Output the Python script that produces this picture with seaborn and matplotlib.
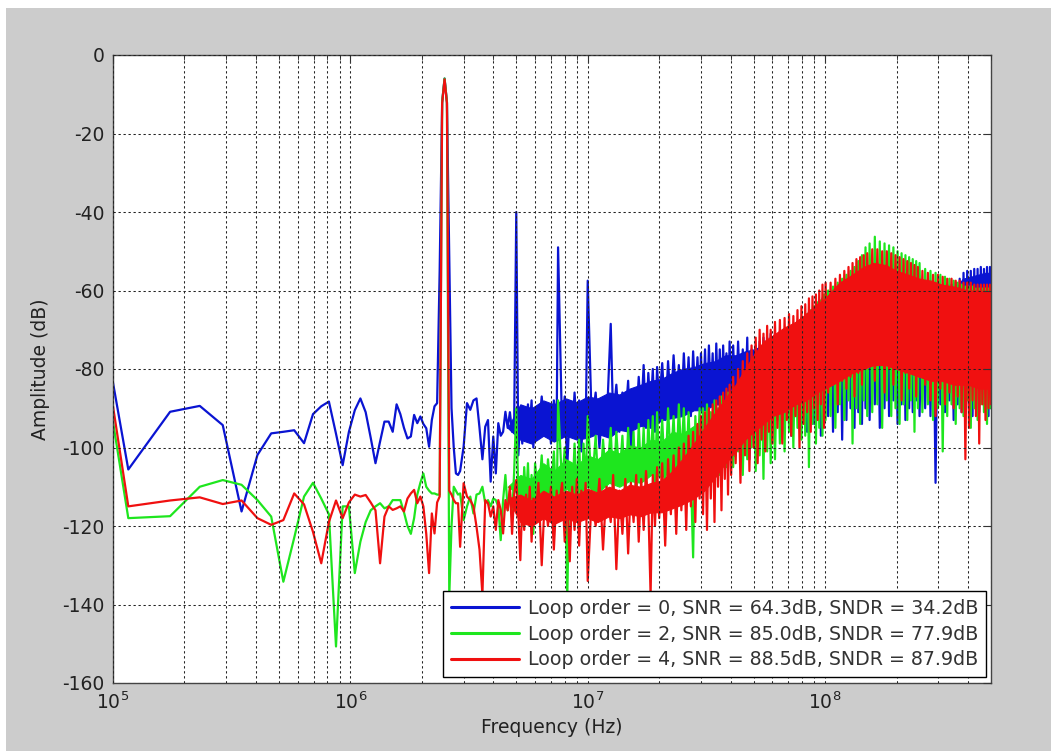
import matplotlib
matplotlib.use("Agg")
import matplotlib.pyplot as plt
import numpy as np
import pandas as pd
import seaborn as sns
from matplotlib.ticker import LogLocator, FixedLocator, NullFormatter
from matplotlib.patches import Rectangle

# ---------------- data ----------------
freq_low_khz = [100, 116, 174, 232, 290, 348, 406, 464, 522, 580,
                638, 696, 754, 812, 870, 928, 986, 1044, 1102, 1160,
                1218, 1276, 1334, 1392, 1450, 1508, 1566, 1624, 1682, 1740,
                1798, 1856, 1914, 1972, 2030, 2088, 2146, 2204, 2262, 2320,
                2378, 2436, 2494, 2552, 2610, 2668, 2726, 2784, 2842, 2900]

freq_mid_mhz = [3.0, 3.1, 3.2, 3.3, 3.4, 3.5, 3.6, 3.7, 3.8, 3.9,
                4.0, 4.1, 4.2, 4.3, 4.4, 4.5, 4.6, 4.7, 4.8, 4.9,
                5.0, 5.1, 5.2, 5.3, 5.4, 5.5, 5.6, 5.7, 5.8, 5.9,
                6.0, 6.2, 6.4, 6.6, 6.8, 7.0, 7.2, 7.4, 7.5, 7.8,
                8.0, 8.2, 8.4, 8.6, 8.8, 9.0, 9.2, 9.4, 9.6, 9.8,
                10.0, 10.4, 10.8, 11.2, 11.6, 12.0, 12.5, 12.8, 13.2, 13.6,
                14.0, 14.4, 14.8, 15.2, 15.6, 16.0, 16.4, 16.8, 17.2, 17.6,
                18.0, 18.4, 18.8, 19.2, 19.6, 20.0, 20.6, 21.2, 21.8, 22.4,
                23.0, 23.6, 24.2, 24.8, 25.4, 26.0, 26.6, 27.2, 27.8, 28.4,
                29.0, 29.6, 30.0]

freq_high_mhz = [30.6, 31.2, 31.8, 32.4, 33.0, 33.6, 34.2, 34.8, 35.4, 36.0,
                 36.6, 37.2, 37.8, 38.4, 39.0, 39.6, 40.2,
                 41, 42, 43, 44, 45, 46, 47, 48, 49, 50,
                 51, 52, 53, 54, 55, 56, 57, 58, 59, 60,
                 61.5, 63, 64.5, 66, 67.5, 69, 70.5, 72, 73.5, 75,
                 76.5, 78, 79.5, 81, 82.5, 84, 85.5, 87, 88.5, 90,
                 91.5, 93, 94.5, 96, 97.5, 99, 100.5,
                 103, 105.5, 108, 110.5, 113, 115.5, 118, 120.5, 123, 125.5,
                 128, 130.5, 133, 135.5, 138, 140.5, 143, 145.5, 148, 150.5,
                 154, 158, 162, 166, 170, 174, 178, 182, 186, 190,
                 194, 198, 202, 206, 210, 214, 218, 222, 226, 230,
                 234, 238, 242, 246, 250,
                 257, 264, 271, 278, 285, 292, 299, 306, 313, 320,
                 327, 334, 341, 348, 355, 362, 369, 376, 383, 390,
                 397, 404, 411, 418, 425, 432, 439, 446, 453, 460,
                 467, 474, 481, 488, 495, 500]

# Loop order = 0 (blue)
amp0_low = [-83.5, -105.6, -90.9, -89.4, -94.3, -116.3, -101.9, -96.4, -96.0, -95.6,
            -98.9, -91.5, -89.5, -88.3, -96.5, -104.5, -96.0, -90.5, -87.5, -91.0,
            -97.5, -104.0, -98.5, -93.4, -93.4, -96.0, -89.0, -91.5, -95.0, -97.7,
            -97.2, -91.7, -93.8, -92.1, -94.0, -95.1, -99.8, -93.0, -89.5, -88.7,
            -55.0, -12.0, -6.0, -12.0, -52.0, -90.0, -100.0, -106.6, -107.0, -106.0]
amp0_mid = [-99.8, -88.7, -90.4, -88.0, -87.5, -95.0, -103.0, -94.7, -93.0, -108.7,
            -97.2, -106.6, -93.8, -97.0, -96.0, -90.9, -95.0, -91.0, -96.0, -93.0,
            -40.0, -102.0, -92.0, -99.0, -91.0, -94.0, -89.0, -95.0, -88.0, -100.0,
            -90.0, -96.0, -87.0, -97.0, -89.0, -99.0, -88.0, -94.0, -49.0, -96.0,
            -87.0, -105.0, -90.0, -97.0, -86.0, -95.0, -88.0, -101.0, -89.0, -96.0,
            -57.5, -94.0, -86.0, -100.0, -88.0, -95.0, -68.5, -93.0, -84.0, -96.0,
            -86.0, -93.0, -83.0, -102.0, -87.0, -94.0, -82.0, -92.0, -79.0, -95.0,
            -81.0, -91.0, -80.0, -96.0, -79.5, -89.0, -78.5, -93.0, -78.0, -90.0,
            -76.5, -88.0, -79.0, -91.0, -76.0, -89.0, -77.0, -92.0, -75.5, -88.0,
            -77.0, -90.0, -76.0]
amp0_high = [-90, -75, -92, -74, -88, -76, -93, -73.5, -89, -75, -91, -74, -88, -76, -94, -73, -89,
             -74, -91, -73, -89, -75, -92, -72, -103, -75, -90, -74, -93, -73, -89, -72, -92, -72, -90, -71, -94,
             -71, -93, -70.5, -96, -70, -91, -69.5, -97, -69, -92, -68, -95, -67, -90, -66, -96, -65.5, -91,
             -65, -94, -64, -92, -63, -97, -62, -91, -61,
             -92, -61, -96, -60, -91, -59, -98, -58, -93, -57, -90, -56, -95, -55, -91, -54.5, -94, -54, -90, -53.5,
             -93, -53, -89, -53, -95, -53.5, -90, -54, -92, -54.5, -88, -55, -94, -55.5, -89, -56, -93, -56.5,
             -90, -57, -91, -57, -88, -57.5, -92,
             -58, -90, -58, -92, -58.5, -109, -58.5, -89, -58.5, -91, -58.5, -88, -58.5, -93, -58, -89, -57, -91,
             -55.5, -88, -55, -90, -55, -92, -54.5, -89, -54.5, -91, -54, -88, -54.5, -90, -54, -92, -54,
             -90]
# dense-noise core of the blue trace where it is not hidden (MHz, lower / upper dB)
band0a_mhz = [4.6, 5.2, 5.8, 6.5, 7.2, 8.1, 9.0, 10, 11, 12.3, 13.6, 15, 16.7,
              18.5, 20.5, 22.7, 25, 28, 31, 34.5, 38, 42, 46, 50, 55]
band0a_hi = [-95, -89, -90, -88, -89, -87.5, -88.5, -87, -87.5, -86, -86.5, -85, -84,
             -83, -82.5, -81, -80, -79.5, -78.5, -78, -76.5, -76.5, -75.5, -75, -74]
band0a_lo = [-95, -98, -99, -97, -98.5, -97, -98, -97.5, -96.5, -97.5, -95.5, -96, -94.5,
             -95, -93, -92.5, -92, -90.5, -90.5, -89, -89, -88, -88, -87, -86]
band0b_mhz = [350, 380, 410, 440, 470, 500]
band0b_hi = [-60, -57, -56.5, -56, -55.5, -55.5]
band0b_lo = [-60, -61, -61, -61, -61, -61]

# Loop order = 2 (green)
amp2_low = [-93.5, -118.0, -117.5, -110.0, -108.3, -109.5, -113.4, -117.6, -134.2, -123.0,
            -112.5, -109.0, -113.0, -117.0, -150.7, -115.0, -115.0, -132.0, -124.0, -119.0,
            -116.0, -115.0, -114.2, -115.5, -115.0, -113.4, -113.4, -113.4, -116.5, -120.0,
            -122.0, -118.0, -112.0, -109.0, -106.6, -110.0, -111.0, -111.7, -111.7, -112.0,
            -112.0, -12.0, -6.0, -12.0, -138.0, -120.0, -110.0, -111.0, -112.0, -111.7]
amp2_mid = [-118.5, -115.0, -112.5, -116.8, -112.0, -111.7, -110.0, -114.2, -113.4, -115.0,
            -113.0, -113.4, -115.0, -123.6, -113.4, -107.0, -116.0, -111.0, -118.0, -106.0,
            -90.0, -112.0, -108.0, -120.0, -105.0, -114.0, -104.0, -117.0, -107.0, -122.0,
            -104.0, -113.0, -102.0, -118.0, -103.0, -112.0, -101.0, -116.0, -88.0, -110.0,
            -100.0, -138.0, -104.0, -114.0, -99.0, -112.0, -98.0, -117.0, -99.0, -109.0,
            -92.0, -111.0, -97.0, -115.0, -98.0, -110.0, -95.0, -112.0, -96.0, -108.0,
            -97.0, -113.0, -95.0, -109.0, -96.0, -114.0, -94.0, -108.0, -95.0, -111.0,
            -93.0, -106.0, -92.0, -110.0, -91.0, -105.0, -93.0, -109.0, -90.0, -104.0,
            -92.0, -108.0, -89.0, -103.0, -90.0, -106.0, -91.0, -107.0, -128.0, -92.0,
            -105.0, -90.0, -104.0]
amp2_high = [-90, -106, -89, -103, -91, -108, -88, -104, -90, -107, -87, -102, -89, -105, -86, -103, -88,
             -105, -85, -101, -84, -107, -82, -103, -81, -100, -79, -106, -78, -102, -77, -108, -76, -101, -75, -104, -74,
             -103, -72, -99, -71, -101, -70, -96, -69.5, -100, -69, -95, -68, -98, -67, -97, -66, -105, -65,
             -94, -64, -99, -63, -95, -62.5, -97, -61, -93,
             -60, -92, -59, -95, -58, -89, -57, -93, -56, -88, -55, -99, -54, -90, -52.5, -94, -51, -88, -49, -92,
             -48, -91, -46.3, -89, -47.5, -95, -48, -88, -48.5, -92, -49, -90, -50, -94, -50.5, -89, -51, -93,
             -51.5, -88, -52, -96, -52.5, -90, -53,
             -91, -54.5, -89, -55, -93, -55.5, -90, -56, -101, -56.5, -92, -57, -89, -57.5, -94, -58, -90, -58.5,
             -92, -59, -88, -59, -95, -59, -90, -59.5, -93, -59.5, -89, -59.5, -91, -59.5, -94, -59.5, -90,
             -59.5]
band2_mhz = [4.6, 5.2, 5.8, 6.5, 7.2, 8.1, 9.0, 10, 11, 12.3, 13.6, 15, 16.7,
             18.5, 20.5, 22.7, 25, 28, 31, 34.5, 38, 42]
band2_hi = [-110, -107, -108, -104, -106, -103, -104.5, -102, -103, -100.5, -101.5, -99.5, -100,
            -98, -98.5, -96, -96.5, -94.5, -93, -92, -90, -88]
band2_lo = [-110, -112, -113, -111, -112.5, -110.5, -112, -110, -111.5, -109, -110, -108.5, -109,
            -107, -107.5, -106, -106, -104.5, -104, -103.5, -103, -102]

# Loop order = 4 (red)
amp4_low = [-89.5, -115.0, -113.5, -112.7, -114.4, -113.5, -118.0, -119.7, -118.5, -111.7,
            -114.5, -121.5, -129.5, -119.0, -113.5, -118.0, -114.0, -112.0, -112.5, -112.1,
            -114.0, -116.0, -129.5, -117.6, -115.0, -115.9, -115.5, -115.0, -116.3, -113.0,
            -111.7, -110.8, -114.2, -112.5, -115.0, -122.0, -132.0, -116.8, -121.9, -114.0,
            -112.5, -12.3, -6.2, -12.3, -111.0, -112.0, -113.4, -114.2, -114.2, -125.3]
amp4_mid = [-109.1, -112.5, -113.4, -115.0, -120.2, -126.0, -137.5, -113.4, -114.2, -117.6,
            -115.0, -121.0, -113.4, -115.9, -121.9, -113.4, -116.0, -110.0, -122.0, -112.0,
            -108.3, -117.0, -128.7, -114.0, -121.0, -112.0, -119.0, -110.0, -124.0, -113.0,
            -118.0, -109.0, -130.0, -112.0, -120.0, -110.0, -126.0, -111.0, -117.0, -109.0,
            -124.0, -112.0, -129.0, -110.0, -121.0, -108.0, -125.0, -111.0, -118.0, -109.0,
            -134.0, -112.0, -120.0, -108.0, -126.0, -110.0, -119.0, -107.0, -131.0, -111.0,
            -122.0, -108.0, -127.0, -109.0, -119.0, -107.0, -124.0, -108.0, -121.0, -106.0,
            -115.0, -137.5, -107.0, -120.0, -105.0, -118.0, -104.0, -125.0, -103.0, -117.0,
            -102.0, -122.0, -100.0, -116.0, -99.0, -121.0, -97.0, -115.0, -96.0, -119.0,
            -94.0, -113.0, -92.0]
amp4_high = [-117, -91, -121, -90, -113, -89, -119, -88, -110, -87, -116, -86, -108, -85, -112, -84, -107,
             -82, -104, -80, -109, -78, -102, -76, -106, -74, -100, -72, -104, -70, -98, -71, -101, -69, -96, -70, -99,
             -68, -95, -67.5, -99, -67, -93, -66, -97, -66.5, -92, -65, -100, -64, -94, -63.5, -91, -62, -96,
             -61.5, -90, -61, -93, -60, -89, -58.5, -95, -58,
             -86, -58, -84, -57, -89, -56, -83, -55, -85, -54, -82, -53, -87, -52, -81, -51.5, -84, -51, -80, -50.5,
             -79, -49.5, -83, -49.5, -78, -50, -86, -50, -80, -50.5, -84, -51, -79, -51.5, -88, -52, -81, -52.5,
             -85, -53, -80, -53.5, -87, -54, -82,
             -55, -84, -55.5, -88, -56, -92, -56, -85, -56.5, -89, -57, -86, -57, -90, -57.5, -87, -57.5, -91,
             -58, -103, -58, -95, -58, -88, -58.5, -92, -58.5, -99, -58.5, -89, -58.5, -93, -58.5, -90, -58.5,
             -89]
band4_mhz = [4.6, 5.2, 5.8, 6.5, 7.2, 8.1, 9.0, 10, 11, 12.3,
             13.6, 15, 16.7, 18.5, 20.5, 22.7, 25, 28, 31, 34.5,
             38, 42, 46, 50, 55, 60, 67, 75, 83, 92,
             100, 115, 130, 145, 160, 180, 200, 225, 250, 280,
             310, 350, 400, 450, 500]
band4_hi = [-113, -112, -113.5, -111, -112.5, -111, -112, -110.5, -111.5, -110,
            -111, -109.5, -110, -109, -108.5, -106, -103, -99, -95, -91,
            -87.5, -84, -80, -76.5, -73, -71.5, -69.5, -68, -66, -63.5,
            -62, -58, -56, -54, -53, -53.5, -55, -56, -57, -57.5,
            -58.5, -59, -60, -60, -60.5]
band4_lo = [-113, -119, -120, -118, -119.5, -118, -119, -118, -119, -117.5,
            -118, -117, -117.5, -116.5, -116.5, -115.5, -114.5, -113, -111, -107.5,
            -104, -101, -98, -96, -94, -92, -91, -89, -88, -86,
            -85, -83, -81, -80, -79, -79, -80, -81, -82, -83,
            -83, -84, -84, -85, -85]

labels = ["Loop order = 0, SNR = 64.3dB, SNDR = 34.2dB",
          "Loop order = 2, SNR = 85.0dB, SNDR = 77.9dB",
          "Loop order = 4, SNR = 88.5dB, SNDR = 87.9dB"]
colors = ["#0a14d2", "#1ee61e", "#f01010"]

x_major_ticks = [1e5, 1e6, 1e7, 1e8]
y_ticks = [-160, -140, -120, -100, -80, -60, -40, -20, 0]

# ---------------- assemble ----------------
freq_hz = ([f * 1e3 for f in freq_low_khz] + [f * 1e6 for f in freq_mid_mhz]
           + [f * 1e6 for f in freq_high_mhz])
series = [amp0_low + amp0_mid + amp0_high,
          amp2_low + amp2_mid + amp2_high,
          amp4_low + amp4_mid + amp4_high]
bands = [[(band0a_mhz, band0a_lo, band0a_hi), (band0b_mhz, band0b_lo, band0b_hi)],
         [(band2_mhz, band2_lo, band2_hi)],
         [(band4_mhz, band4_lo, band4_hi)]]

# ---------------- style ----------------
sns.set_style("white")
plt.rcParams["font.family"] = ["DejaVu Sans"]
plt.rcParams["axes.unicode_minus"] = False
plt.rcParams["mathtext.default"] = "regular"

fig = plt.figure(figsize=(10.51, 7.51), dpi=100, facecolor="#cccccc")
fig.add_artist(Rectangle((0, 1 - 8 / 751), 1, 8 / 751, transform=fig.transFigure,
                         facecolor="white", edgecolor="none", zorder=-5))
fig.add_artist(Rectangle((0, 0), 6 / 1051, 1, transform=fig.transFigure,
                         facecolor="white", edgecolor="none", zorder=-5))
ax = fig.add_axes([113 / 1051, 68 / 751, 878 / 1051, 628 / 751])
ax.set_facecolor("white")

for amps, band_list, lab, col in zip(series, bands, labels, colors):
    for bf, blo, bhi in band_list:
        ax.fill_between([f * 1e6 for f in bf], blo, bhi, color=col, linewidth=0.8, zorder=2)
    df = pd.DataFrame({"Frequency (Hz)": freq_hz, "Amplitude (dB)": amps})
    sns.lineplot(data=df, x="Frequency (Hz)", y="Amplitude (dB)", ax=ax, color=col,
                 linewidth=1.6, label=lab, sort=False, estimator=None, zorder=2)

ax.set_xscale("log")
ax.set_xlim(1e5, 5e8)
ax.set_ylim(-160, 0)
ax.xaxis.set_major_locator(FixedLocator(x_major_ticks))
ax.xaxis.set_minor_locator(LogLocator(base=10, subs=np.arange(2, 10), numticks=20))
ax.xaxis.set_minor_formatter(NullFormatter())
ax.set_yticks(y_ticks)
ax.set_yticklabels([str(v) for v in y_ticks])

grid_kw = dict(color="#222222", linestyle=(0, (2.2, 2.6)), linewidth=0.75)
ax.grid(True, which="major", axis="both", **grid_kw)
ax.grid(True, which="minor", axis="x", **grid_kw)
ax.set_axisbelow(False)
for line in ax.get_xgridlines() + ax.get_ygridlines():
    line.set_zorder(0.5)

ax.tick_params(axis="both", which="both", direction="in", top=True, right=True,
               labelsize=13.5, labelcolor="#222222", color="#333333")
ax.tick_params(which="major", length=6, width=0.8, pad=6)
ax.tick_params(which="minor", length=3.5, width=0.6)
for sp in ax.spines.values():
    sp.set_color("#444444")
    sp.set_linewidth(1.0)

ax.set_xlabel("Frequency (Hz)", fontsize=13.5, color="#222222", labelpad=4)
ax.set_ylabel("Amplitude (dB)", fontsize=13.5, color="#222222", labelpad=9)

leg = ax.legend(loc="lower right", bbox_to_anchor=(0.9943, 0.0096), borderaxespad=0,
                frameon=True, fancybox=False, edgecolor="black", framealpha=1,
                fontsize=13.7, handlelength=3.6, handletextpad=0.45,
                labelspacing=0.36, borderpad=0.4)
leg.get_frame().set_linewidth(1.0)
for t in leg.get_texts():
    t.set_color("#333333")
for h in leg.get_lines():
    h.set_linewidth(2.2)

fig.savefig("out.png", dpi=100, facecolor=fig.get_facecolor())
